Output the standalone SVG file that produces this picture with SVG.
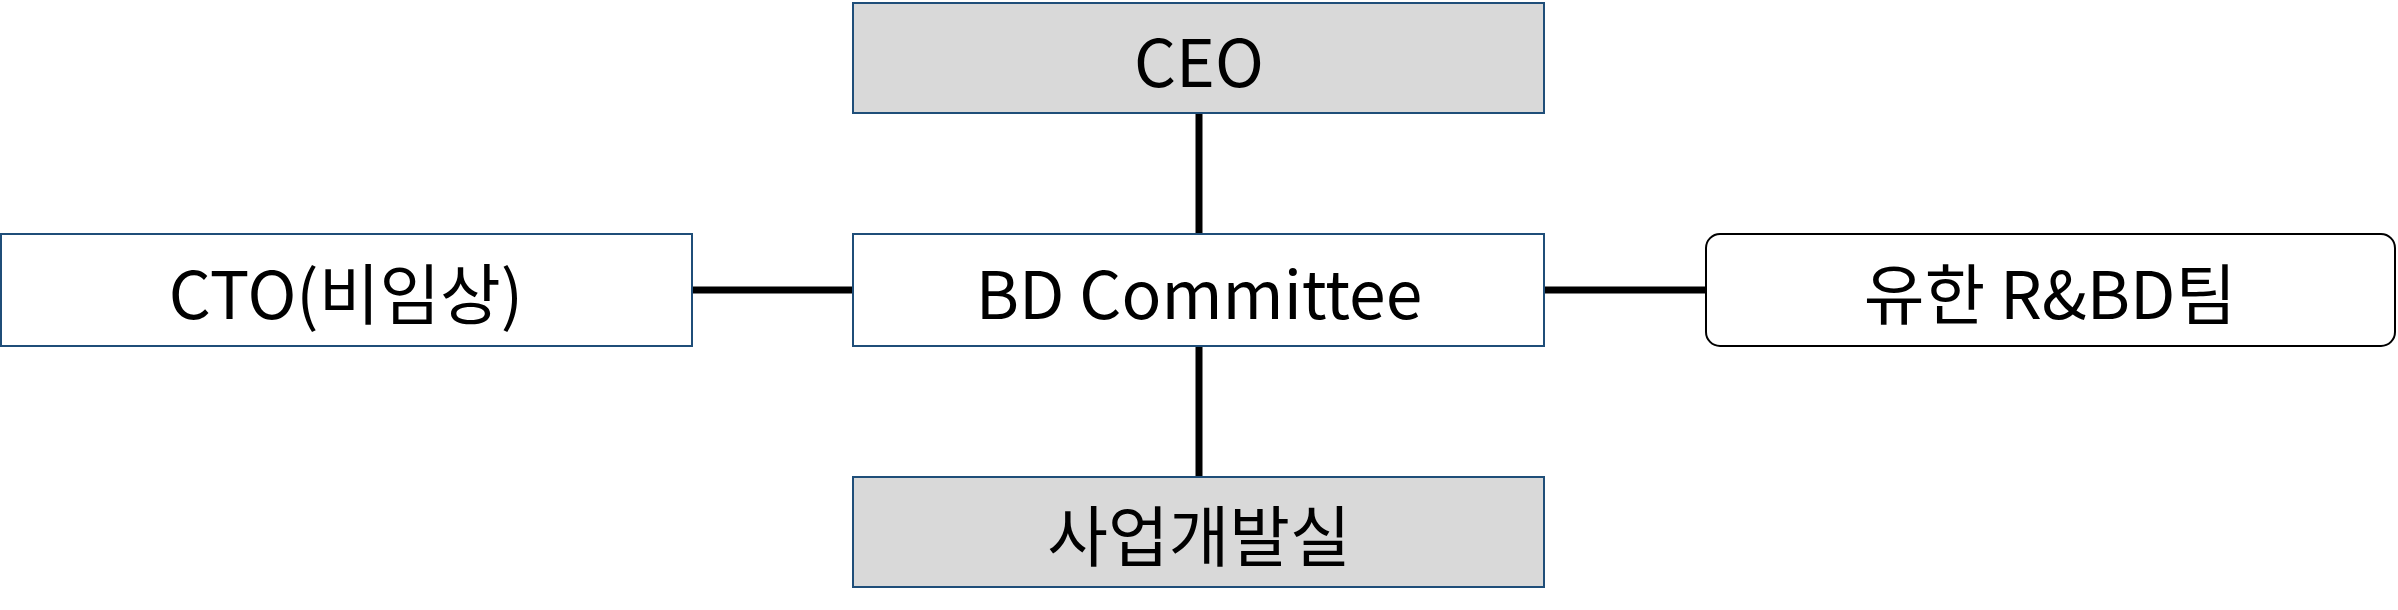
<svg xmlns="http://www.w3.org/2000/svg" width="2398" height="610" viewBox="0 0 2398 610">
<style>
.box{stroke:#1f4e79;stroke-width:2}
.g{fill:#d9d9d9}
.w{fill:#fff}
.t{font-family:"Noto Sans CJK KR","Noto Sans",sans-serif;font-size:66px;fill:#000;text-anchor:middle;dominant-baseline:central}
.c{stroke:#000;stroke-width:7;fill:none}
</style>
<rect width="2398" height="610" fill="#fff"/>
<g id="connectors">
<line class="c" x1="1199" y1="113" x2="1199" y2="234"/>
<line class="c" x1="1199" y1="346" x2="1199" y2="477"/>
<line class="c" x1="692" y1="290" x2="853" y2="290"/>
<line class="c" x1="1545" y1="290" x2="1706" y2="290"/>
</g>
<g id="ceo"><rect class="box g" x="853" y="3" width="691" height="110"/><text class="t" x="1199" y="58">CEO</text></g>
<g id="bd"><rect class="box w" x="853" y="234" width="691" height="112"/><text class="t" x="1199" y="290">BD Committee</text></g>
<g id="cto"><rect class="box w" x="1" y="234" width="691" height="112"/><text class="t" x="346" y="290">CTO(비임상)</text></g>
<g id="rbd"><rect x="1706" y="234" width="689" height="112" rx="14" fill="#fff" stroke="#000" stroke-width="2"/><text class="t" x="2050" y="290">유한 R&amp;BD팀</text></g>
<g id="biz"><rect class="box g" x="853" y="477" width="691" height="110"/><text class="t" x="1199" y="532">사업개발실</text></g>
</svg>
